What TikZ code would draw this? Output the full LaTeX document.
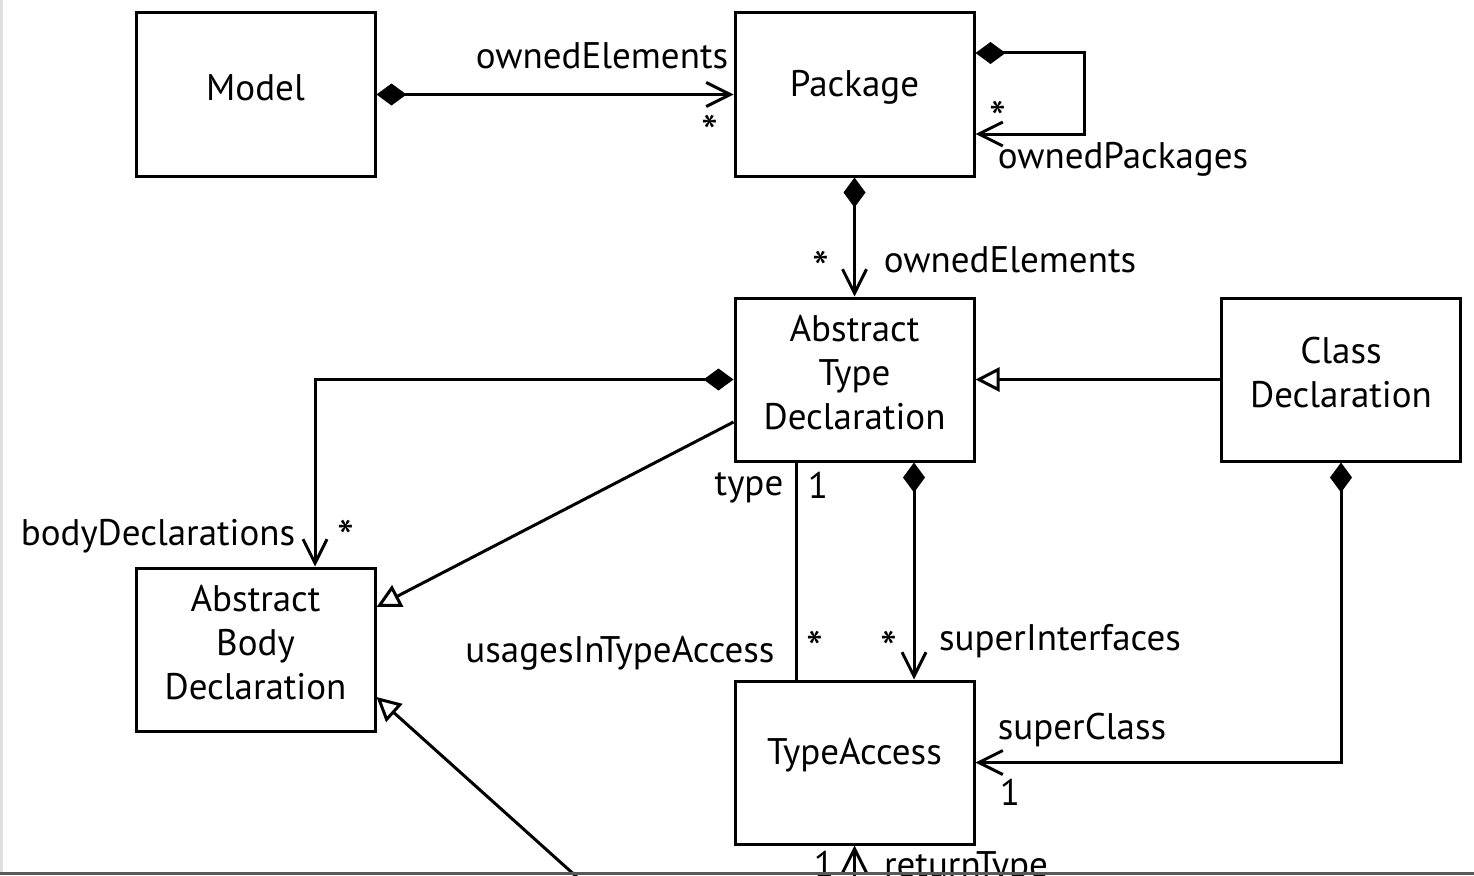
\documentclass[tikz,border=0pt]{standalone}
\usepackage{fontspec}
\setmainfont{PT Sans}
\usetikzlibrary{arrows.meta,calc}
\begin{document}
\begin{tikzpicture}[x=1pt,y=-1pt,
  every node/.style={font=\fontsize{37}{44}\selectfont, inner sep=0pt},
  cls/.style={draw, line width=3pt, minimum width=239pt, minimum height=163pt},
  txt/.style={align=center, yshift=7pt},
  lbl/.style={anchor=base},
  star/.style={anchor=center, font=\fontsize{48}{48}\selectfont},
  conn/.style={line width=3pt},
  comp/.style={conn, {Diamond[fill=black,length=30pt,width=22pt]}-{Straight Barb[length=24pt,width=24pt,line width=3pt]}},
  nav/.style={conn, -{Straight Barb[length=24pt,width=24pt,line width=3pt]}},
  gen/.style={conn, -{Triangle[open,fill=white,length=24pt,width=24pt,line width=3pt]}}
]
\useasboundingbox (0,0) rectangle (1474,875);
\clip (0,0) rectangle (1474,875);
\fill[white] (0,0) rectangle (1474,875);
\fill[gray!25] (0,0) rectangle (3,875);

\node[cls] (model) at (255.5,94.5) {};
\node[txt] (modelt) at (model.center) {Model};
\node[cls] (pkg) at (854.5,94.5) {};
\node[txt] (pkgt) at (pkg.center) {Package};
\node[cls] (atd) at (854.5,379.5) {};
\node[txt] (atdt) at (atd.center) {Abstract\\Type\\Declaration};
\node[cls] (cd) at (1341,379.5) {};
\node[txt] (cdt) at (cd.center) {Class\\Declaration};
\node[cls] (abd) at (255.5,649.5) {};
\node[txt] (abdt) at (abd.center) {Abstract\\Body\\Declaration};
\node[cls] (ta) at (854.5,762.5) {};
\node[txt] (tat) at (ta.center) {TypeAccess};

% Model -> Package
\draw[comp] (model.east) -- (pkg.west);
\node[lbl] (l1) at (602,68) {ownedElements};
\node[star] (s1) at (710,132) {*};

% Package self loop
\draw[comp] ([yshift=41.5pt]pkg.east) -- ++(109,0) -- ++(0,81) -- ([yshift=-39.5pt]pkg.east);
\node[star] (s2) at (998,118) {*};
\node[lbl] (l2) at (1123,168) {ownedPackages};

% Package -> ATD
\draw[comp] (pkg.south) -- (atd.north);
\node[star] (s3) at (821,268) {*};
\node[lbl] (l3) at (1010,272) {ownedElements};

% ClassDeclaration generalizes ATD
\draw[gen] (cd.west) -- (atd.east);

% ATD -> ABD composition
\draw[comp] (atd.west) -| ([xshift=59.5pt]abd.north);
\node[lbl] (l4) at (158,545) {bodyDeclarations};
\node[star] (s4) at (346,537) {*};

% ATD generalizes ABD
\draw[gen] ([yshift=-42.5pt]atd.west) -- ([yshift=42.5pt]abd.east);

% ATD -- TypeAccess association
\draw[conn] ([xshift=-58.5pt]atd.south) -- ([xshift=-58.5pt]ta.north);
\node[lbl] (l5) at (749,495) {type};
\node[lbl] (n1) at (818,498) {1};
\node[lbl] (l6) at (620,662) {usagesInTypeAccess};
\node[star] (s5) at (815,648) {*};

% ATD -> TypeAccess superInterfaces
\draw[comp] ([xshift=59.5pt]atd.south) -- ([xshift=59.5pt]ta.north);
\node[star] (s6) at (889,648) {*};
\node[lbl] (l7) at (1060,650) {superInterfaces};

% ClassDeclaration -> TypeAccess superClass
\draw[comp] (cd.south) |- (ta.east);
\node[lbl] (l8) at (1082,739) {superClass};
\node[lbl] (n2) at (1010,805) {1};

% bottom connectors (cut off)
\coordinate (g) at (578,878);
\draw[gen] (g) -- ([yshift=-47.5pt]abd.east);
\coordinate (r) at (854.5,900);
\draw[nav] (r) -- (ta.south);
\node[lbl] (n3) at (824,877) {1};
\node[lbl] (l9) at (966,877) {returnType};

\fill[black!65] (0,872) rectangle (1474,875);
\end{tikzpicture}
\end{document}
